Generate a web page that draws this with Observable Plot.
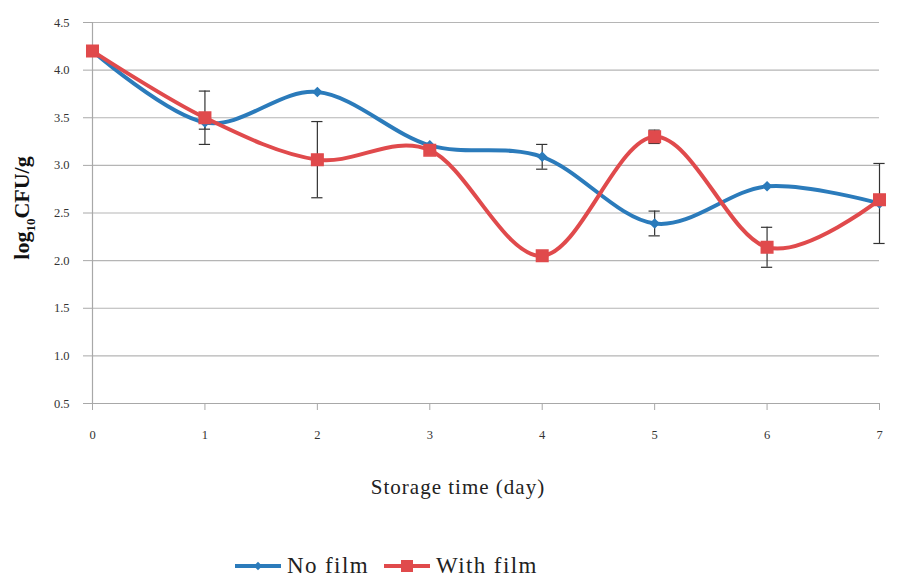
<!DOCTYPE html>
<html>
<head>
<meta charset="utf-8">
<script src="https://cdn.jsdelivr.net/npm/d3@7"></script>
<script src="https://cdn.jsdelivr.net/npm/@observablehq/plot@0.6"></script>
<style>
  html, body { margin: 0; padding: 0; background: #fff; }
  #wrap { width: 897px; font-family: "Liberation Serif", serif; }
  #chart svg, #chart svg text { font-family: "Liberation Serif", serif !important; }
  #legend { position: relative; height: 39px; font-size: 23px; color: #222; letter-spacing: 1.4px; }
  #legend .item { position: absolute; top: 13px; display: flex; align-items: center; height: 26px; }
  #legend svg { display: block; }
</style>
</head>
<body>
<div id="wrap">
  <div id="chart"></div>
  <div id="legend"></div>
</div>
<script>
// ---- data ----
const days = [0, 1, 2, 3, 4, 5, 6, 7];
const noFilm = [4.20, 3.45, 3.77, 3.21, 3.09, 2.39, 2.78, 2.60];
const withFilm = [4.20, 3.50, 3.06, 3.16, 2.05, 3.30, 2.14, 2.64];
const noFilmErr = [0, 0.07, 0, 0, 0.13, 0.13, 0, 0.42];
const withFilmErr = [0, 0.28, 0.40, 0, 0.05, 0.07, 0.21, 0];
const seriesNames = ["No film", "With film"];
const seriesColors = ["#2b7bbb", "#e04a4c"];
const yTicks = [0.5, 1.0, 1.5, 2.0, 2.5, 3.0, 3.5, 4.0, 4.5];
const xLabel = "Storage time (day)";

const rows = [];
days.forEach((d, i) => {
  rows.push({day: d, series: seriesNames[0], value: noFilm[i], err: noFilmErr[i]});
  rows.push({day: d, series: seriesNames[1], value: withFilm[i], err: withFilmErr[i]});
});
const errRows = rows.filter(r => r.err > 0);
const capHalf = 0.05;

const blue = seriesColors[0], red = seriesColors[1];
const FONT = "Liberation Serif, serif";

const chart = Plot.plot({
  width: 897,
  height: 540,
  marginLeft: 92,
  marginRight: 18,
  marginTop: 22,
  marginBottom: 137,
  style: {fontFamily: FONT, fontSize: "12.5px", color: "#333", background: "#fff"},
  x: {domain: [0, 7]},
  y: {domain: [0.5, 4.5]},
  color: {domain: seriesNames, range: seriesColors},
  marks: [
    Plot.gridY(yTicks, {stroke: "#b5b5b5", strokeOpacity: 1, strokeWidth: 1.2}),
    Plot.ruleX([0], {stroke: "#a8a8a8", strokeWidth: 1.2}),
    Plot.ruleY([0.5], {stroke: "#a8a8a8", strokeWidth: 1.2}),
    Plot.axisY(yTicks, {tickFormat: d => d.toFixed(1), tickSize: 9, tickPadding: 14, stroke: "#a8a8a8", fill: "#333", label: null, fontSize: 12.5, fontFamily: FONT}),
    Plot.axisX(days, {tickSize: 7, tickPadding: 20, stroke: "#a8a8a8", fill: "#333", label: null, fontSize: 12.5, fontFamily: FONT}),
    Plot.line(rows, {x: "day", y: "value", z: "series", stroke: "series", curve: "cardinal", strokeWidth: 4}),
    Plot.ruleX(errRows, {x: "day", y1: d => d.value - d.err, y2: d => d.value + d.err, stroke: "#333", strokeWidth: 1.2}),
    Plot.ruleY(errRows, {y: d => d.value + d.err, x1: d => d.day - capHalf, x2: d => d.day + capHalf, stroke: "#333", strokeWidth: 1.2}),
    Plot.ruleY(errRows, {y: d => d.value - d.err, x1: d => d.day - capHalf, x2: d => d.day + capHalf, stroke: "#333", strokeWidth: 1.2}),
    Plot.dot(rows.filter(r => r.series === seriesNames[0]), {x: "day", y: "value", symbol: "diamond2", r: 3.8, fill: blue, stroke: blue}),
    Plot.dot(rows.filter(r => r.series === seriesNames[1]), {x: "day", y: "value", symbol: "square", r: 6.5, fill: red, stroke: red})
  ]
});

// axis titles
const svg = d3.select(chart);
const yt = svg.append("text")
  .attr("transform", "translate(29,208) rotate(-90)")
  .attr("text-anchor", "middle")
  .attr("font-family", FONT)
  .attr("font-weight", "bold")
  .attr("font-size", 22)
  .attr("fill", "#111");
yt.append("tspan").text("log");
yt.append("tspan").attr("font-size", 13).attr("dy", 6).text("10");
yt.append("tspan").attr("dy", -6).text("CFU/g");

svg.append("text")
  .attr("x", 458).attr("y", 494)
  .attr("text-anchor", "middle")
  .attr("font-family", FONT)
  .attr("font-size", 21)
  .attr("letter-spacing", 1)
  .attr("fill", "#222")
  .text(xLabel);

document.getElementById("chart").appendChild(chart);

// legend
const legend = d3.select("#legend");
const lefts = [235, 384];
seriesNames.forEach((name, i) => {
  const item = legend.append("div").attr("class", "item").style("left", lefts[i] + "px");
  const s = item.append("svg").attr("width", 46).attr("height", 14);
  s.append("line").attr("x1", 0).attr("x2", 46).attr("y1", 7).attr("y2", 7)
    .attr("stroke", seriesColors[i]).attr("stroke-width", 4);
  if (i === 0) {
    s.append("path").attr("d", d3.symbol(d3.symbolDiamond2, 45)()).attr("transform", "translate(23,7)").attr("fill", seriesColors[i]);
  } else {
    s.append("rect").attr("x", 17).attr("y", 1).attr("width", 12).attr("height", 12).attr("fill", seriesColors[i]);
  }
  item.append("span").style("margin-left", "6px").text(name);
});
</script>
</body>
</html>
